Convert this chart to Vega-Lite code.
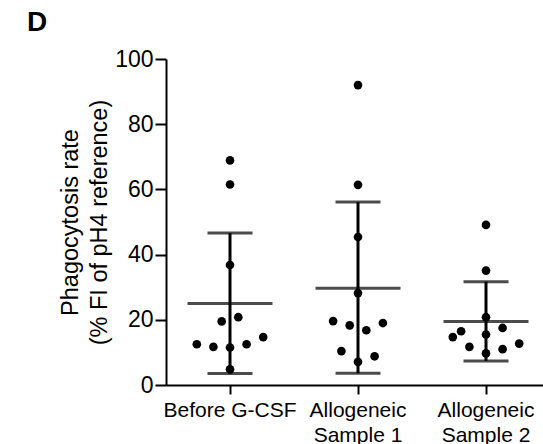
{
  "$schema": "https://vega.github.io/schema/vega-lite/v6.json",
  "width": 384,
  "height": 326,
  "autosize": "none",
  "padding": {"left": 166, "top": 59, "right": 0, "bottom": 59},
  "background": "white",
  "title": {"text": "D", "anchor": "start", "frame": "group", "dx": -139, "offset": 11, "fontSize": 28, "fontWeight": "bold", "color": "black", "font": "Liberation Sans"},
  "config": {
    "font": "Liberation Sans",
    "view": {"stroke": null},
    "axis": {"domainColor": "black", "domainWidth": 2, "tickColor": "black", "tickWidth": 2, "labelColor": "black", "titleColor": "black", "grid": false, "labelFont": "Liberation Sans", "titleFont": "Liberation Sans"}
  },
  "datasets": {
    "points": [
      {"group": "Before G-CSF", "value": 68.9, "dx": 0},
      {"group": "Before G-CSF", "value": 61.5, "dx": 0},
      {"group": "Before G-CSF", "value": 36.8, "dx": 0},
      {"group": "Before G-CSF", "value": 20.8, "dx": 1},
      {"group": "Before G-CSF", "value": 19.5, "dx": -1},
      {"group": "Before G-CSF", "value": 14.7, "dx": 4},
      {"group": "Before G-CSF", "value": 12.5, "dx": -4},
      {"group": "Before G-CSF", "value": 11.7, "dx": -2},
      {"group": "Before G-CSF", "value": 11.5, "dx": 0},
      {"group": "Before G-CSF", "value": 12.5, "dx": 2},
      {"group": "Before G-CSF", "value": 4.8, "dx": 0},
      {"group": "Allogeneic|Sample 1", "value": 92.0, "dx": 0},
      {"group": "Allogeneic|Sample 1", "value": 61.4, "dx": 0},
      {"group": "Allogeneic|Sample 1", "value": 45.4, "dx": 0},
      {"group": "Allogeneic|Sample 1", "value": 28.2, "dx": 0},
      {"group": "Allogeneic|Sample 1", "value": 19.6, "dx": -3},
      {"group": "Allogeneic|Sample 1", "value": 18.3, "dx": -1},
      {"group": "Allogeneic|Sample 1", "value": 16.8, "dx": 1},
      {"group": "Allogeneic|Sample 1", "value": 19.0, "dx": 3},
      {"group": "Allogeneic|Sample 1", "value": 10.4, "dx": -2},
      {"group": "Allogeneic|Sample 1", "value": 8.8, "dx": 2},
      {"group": "Allogeneic|Sample 1", "value": 7.1, "dx": 0},
      {"group": "Allogeneic|Sample 2", "value": 49.1, "dx": 0},
      {"group": "Allogeneic|Sample 2", "value": 35.1, "dx": 0},
      {"group": "Allogeneic|Sample 2", "value": 20.8, "dx": 0},
      {"group": "Allogeneic|Sample 2", "value": 16.5, "dx": -3},
      {"group": "Allogeneic|Sample 2", "value": 14.7, "dx": -4},
      {"group": "Allogeneic|Sample 2", "value": 17.5, "dx": 2},
      {"group": "Allogeneic|Sample 2", "value": 15.5, "dx": 0},
      {"group": "Allogeneic|Sample 2", "value": 11.7, "dx": -2},
      {"group": "Allogeneic|Sample 2", "value": 12.7, "dx": 4},
      {"group": "Allogeneic|Sample 2", "value": 11.0, "dx": 2},
      {"group": "Allogeneic|Sample 2", "value": 9.7, "dx": 0}
    ],
    "summary": [
      {"group": "Before G-CSF", "mean": 25.0, "lo": 3.5, "hi": 46.6},
      {"group": "Allogeneic|Sample 1", "mean": 29.7, "lo": 3.6, "hi": 56.1},
      {"group": "Allogeneic|Sample 2", "mean": 19.5, "lo": 7.4, "hi": 31.7}
    ]
  },
  "encoding": {
    "x": {
      "field": "group", "type": "nominal",
      "sort": ["Before G-CSF", "Allogeneic|Sample 1", "Allogeneic|Sample 2"],
      "scale": {"type": "band", "paddingInner": 0, "paddingOuter": 0},
      "axis": {"title": null, "labelAngle": 0, "labelFontSize": 21, "labelLineHeight": 25, "labelPadding": 5, "tickSize": 9, "labelExpr": "split(datum.label, '|')"}
    }
  },
  "layer": [
    {
      "data": {"name": "summary"},
      "mark": {"type": "rule", "color": "black", "strokeWidth": 3},
      "encoding": {
        "y": {"field": "lo", "type": "quantitative", "scale": {"domain": [0, 100], "nice": false},
          "axis": {"values": [0, 20, 40, 60, 80, 100], "labelFontSize": 23, "tickSize": 11, "labelPadding": 2,
            "title": ["Phagocytosis rate", "(% FI of pH4 reference)"], "titleFontSize": 23.5, "titleFontWeight": "normal", "titleLineHeight": 29, "titlePadding": 3}},
        "y2": {"field": "hi"}
      }
    },
    {
      "data": {"name": "summary"},
      "mark": {"type": "tick", "color": "black", "size": 45, "thickness": 3, "orient": "horizontal"},
      "encoding": {"y": {"field": "hi", "type": "quantitative"}}
    },
    {
      "data": {"name": "summary"},
      "mark": {"type": "tick", "color": "black", "size": 45, "thickness": 3, "orient": "horizontal"},
      "encoding": {"y": {"field": "lo", "type": "quantitative"}}
    },
    {
      "data": {"name": "summary"},
      "mark": {"type": "tick", "color": "black", "size": 85, "thickness": 3, "orient": "horizontal"},
      "encoding": {"y": {"field": "mean", "type": "quantitative"}}
    },
    {
      "data": {"name": "points"},
      "mark": {"type": "circle", "color": "black", "opacity": 1, "size": 75},
      "encoding": {
        "y": {"field": "value", "type": "quantitative"},
        "xOffset": {"field": "dx", "type": "quantitative", "scale": {"domain": [-4, 4], "range": [30.8, 97.2]}}
      }
    }
  ]
}
